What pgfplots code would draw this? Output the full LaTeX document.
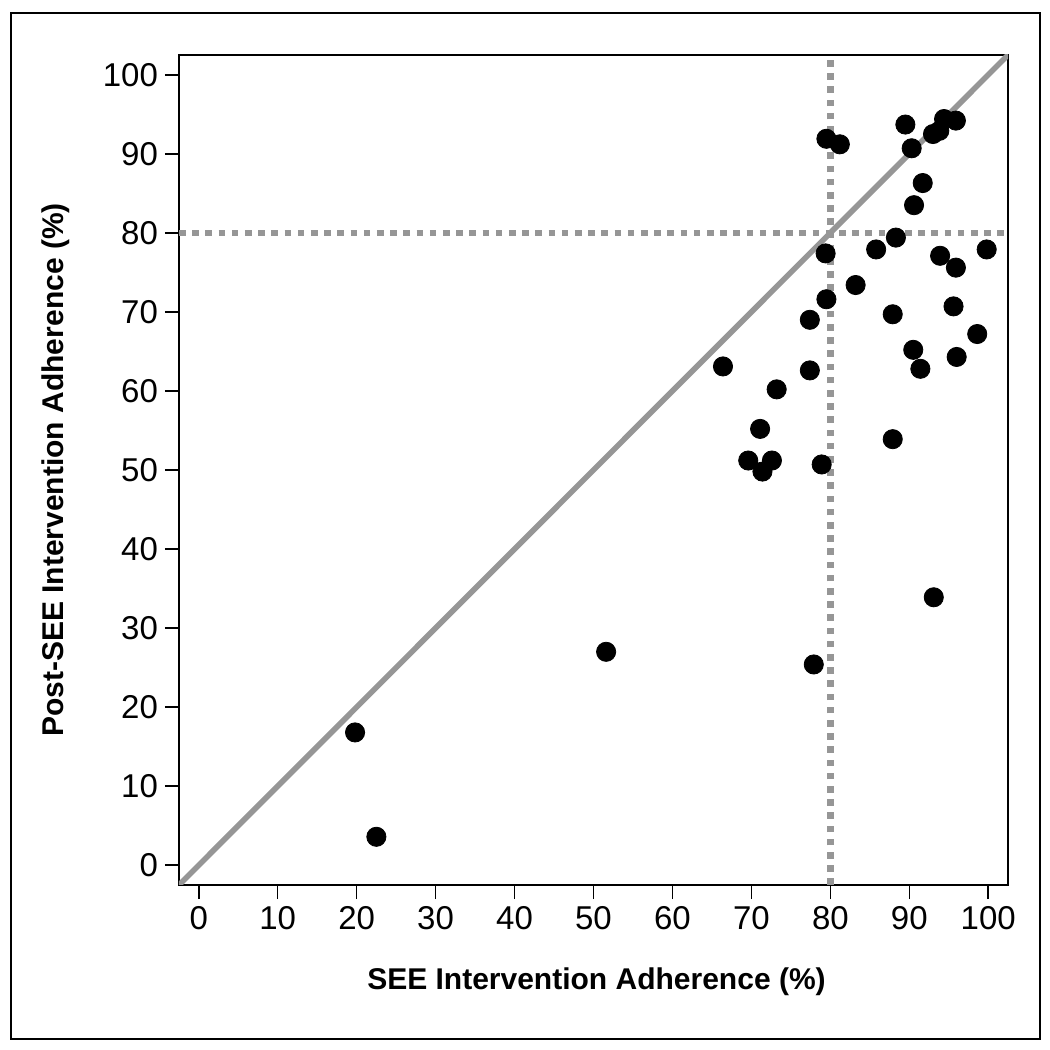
\documentclass[border=0pt]{standalone}
\usepackage{fontspec}
\setmainfont{Liberation Sans}
\usepackage{pgfplots}
\pgfplotsset{compat=1.18}
\definecolor{refgray}{RGB}{150,150,150}
\begin{document}
\begin{tikzpicture}
\useasboundingbox (-89.5pt,-82.5pt) rectangle (435.5pt,442.5pt);
\draw[line width=0.8pt] (-84pt,-77pt) rectangle (430.5pt,436pt);
\begin{axis}[
  at={(0,0)}, anchor=south west,
  scale only axis, width=414.5pt, height=415pt,
  xmin=-2.5, xmax=102.5, ymin=-2.5, ymax=102.5,
  xtick={0,10,...,100}, ytick={0,10,...,100},
  tick align=outside, xtick pos=bottom, ytick pos=left,
  major tick length=7pt,
  axis line style={line width=0.8pt},
  every tick/.style={black, line width=0.8pt},
  tick label style={font=\fontsize{16.5}{19}\selectfont},
  /pgf/number format/assume math mode=true,
  label style={font=\fontsize{15}{18}\selectfont\bfseries},
  xlabel={SEE Intervention Adherence (\%)},
  ylabel={Post-SEE Intervention Adherence (\%)},
  xlabel style={at={(axis description cs:0.5036,-0.1169)}, anchor=center},
  ylabel style={at={(axis description cs:-0.1485,0.5)}, anchor=center},
]
\addplot[only marks, mark=*, mark size=4.8pt, black] coordinates {
(19.8,16.8) (22.5,3.6) (51.6,27.0) (77.9,25.4) (93.1,33.9)
(66.4,63.1) (73.2,60.2) (77.4,62.6) (71.1,55.2) (69.6,51.2)
(72.6,51.2) (71.4,49.8) (78.9,50.7) (87.9,53.9) (90.5,65.2)
(91.4,62.8) (96.0,64.3) (98.6,67.2) (95.6,70.7) (87.9,69.7)
(83.2,73.4) (79.5,71.6) (77.4,69.0) (79.4,77.4) (85.8,77.9)
(88.3,79.4) (93.9,77.1) (95.9,75.6) (99.8,77.9) (90.6,83.5)
(91.7,86.3) (79.5,91.9) (81.2,91.2) (89.5,93.7) (90.3,90.7)
(93.0,92.5) (93.8,92.9) (94.4,94.4) (95.9,94.2)
};
\addplot[refgray, line width=2.8pt] coordinates {(-5,-5) (105,105)};
\addplot[refgray, line width=3.3pt, dash pattern=on 3.3pt off 3.3pt] coordinates {(80,-2.5) (80,102.5)};
\addplot[refgray, line width=3.3pt, dash pattern=on 3.3pt off 3.3pt] coordinates {(-2.5,80) (102.5,80)};
\end{axis}
\end{tikzpicture}
\end{document}
